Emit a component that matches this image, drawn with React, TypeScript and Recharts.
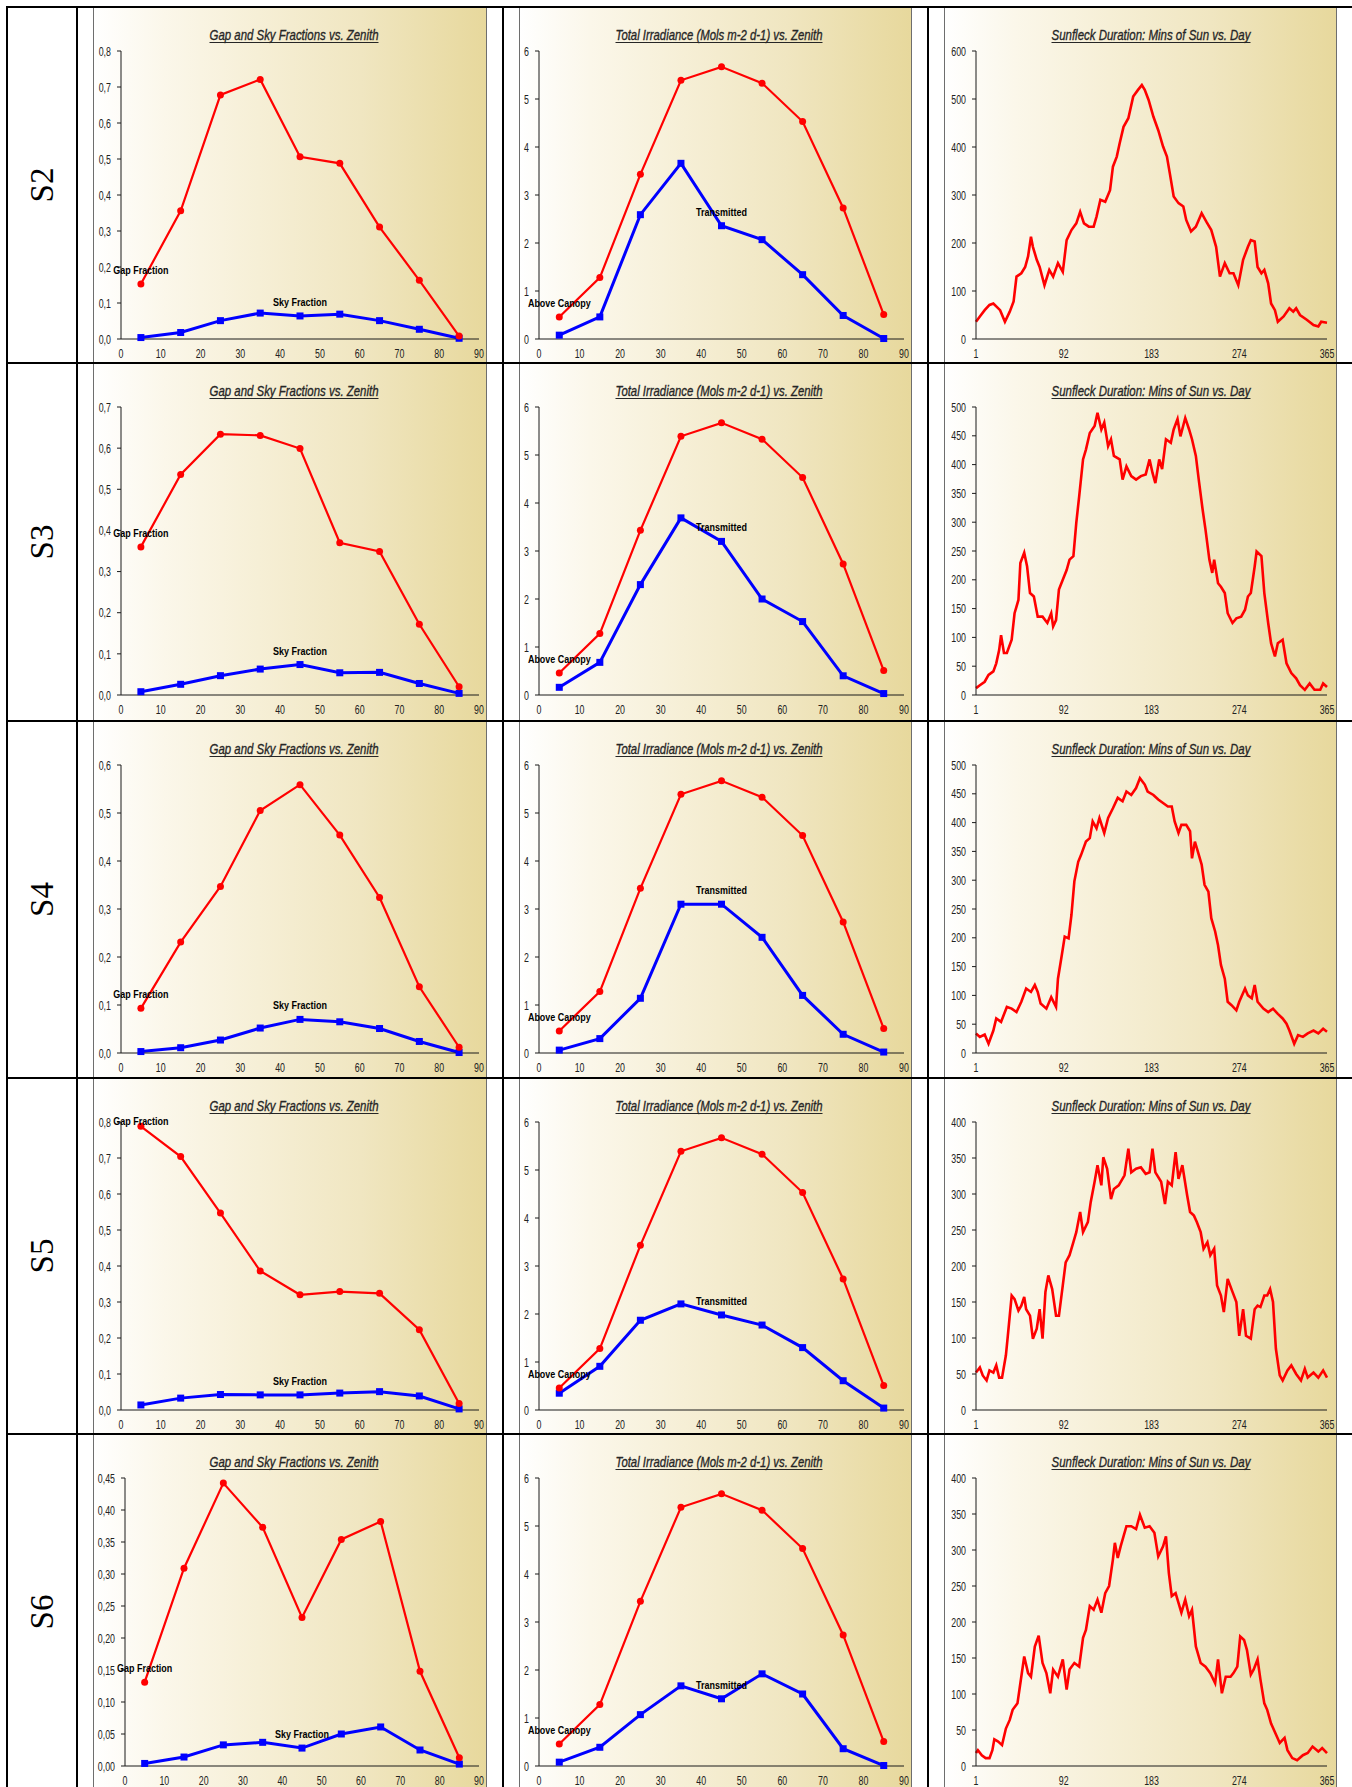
import React from 'react';
import { LineChart, Line, XAxis, YAxis, LabelList } from 'recharts';

// ---------------- data ----------------
const rowNames = ['S2', 'S3', 'S4', 'S5', 'S6'];

const zenith = [5, 15, 25, 35, 45, 55, 65, 75, 85];
const zenithTicks = [0, 10, 20, 30, 40, 50, 60, 70, 80, 90];
const dayTicks = [1, 92, 183, 274, 365];

// Gap and Sky fractions
const gapS2 = [0.153, 0.356, 0.678, 0.721, 0.506, 0.488, 0.311, 0.163, 0.008];
const skyS2 = [0.004, 0.018, 0.051, 0.072, 0.064, 0.069, 0.051, 0.027, 0.002];
const gapS3 = [0.36, 0.536, 0.634, 0.631, 0.599, 0.37, 0.349, 0.172, 0.02];
const skyS3 = [0.008, 0.026, 0.047, 0.063, 0.074, 0.054, 0.055, 0.028, 0.004];
const gapS4 = [0.093, 0.231, 0.347, 0.505, 0.559, 0.454, 0.324, 0.138, 0.012];
const skyS4 = [0.003, 0.011, 0.027, 0.052, 0.07, 0.065, 0.051, 0.024, 0.001];
const gapS5 = [0.788, 0.704, 0.547, 0.386, 0.32, 0.329, 0.324, 0.223, 0.018];
const skyS5 = [0.014, 0.033, 0.043, 0.042, 0.042, 0.047, 0.051, 0.039, 0.003];
const gapS6 = [0.131, 0.309, 0.442, 0.373, 0.232, 0.354, 0.382, 0.148, 0.013];
const skyS6 = [0.004, 0.014, 0.033, 0.037, 0.028, 0.05, 0.061, 0.025, 0.003];

const fracTicksS2 = [0, 0.1, 0.2, 0.3, 0.4, 0.5, 0.6, 0.7, 0.8];
const fracTicksS3 = [0, 0.1, 0.2, 0.3, 0.4, 0.5, 0.6, 0.7];
const fracTicksS4 = [0, 0.1, 0.2, 0.3, 0.4, 0.5, 0.6];
const fracTicksS5 = [0, 0.1, 0.2, 0.3, 0.4, 0.5, 0.6, 0.7, 0.8];
const fracTicksS6 = [0, 0.05, 0.1, 0.15, 0.2, 0.25, 0.3, 0.35, 0.4, 0.45];

// Total irradiance
const aboveCanopy = [0.46, 1.28, 3.43, 5.39, 5.67, 5.33, 4.53, 2.73, 0.51];
const transS2 = [0.08, 0.46, 2.59, 3.66, 2.36, 2.07, 1.34, 0.49, 0.01];
const transS3 = [0.16, 0.68, 2.3, 3.69, 3.2, 2.0, 1.53, 0.4, 0.03];
const transS4 = [0.06, 0.3, 1.14, 3.1, 3.1, 2.41, 1.2, 0.39, 0.02];
const transS5 = [0.35, 0.91, 1.87, 2.21, 1.98, 1.77, 1.3, 0.61, 0.04];
const transS6 = [0.08, 0.39, 1.07, 1.67, 1.4, 1.92, 1.5, 0.36, 0.01];
const irrTicks = [0, 1, 2, 3, 4, 5, 6];

// Sunfleck duration (minutes of sun by day)
const daysS2 = [1, 5, 10, 15, 19, 26, 31, 36, 40, 43, 48, 52, 55, 58, 60, 64, 67, 72, 77, 81, 86, 91, 95, 100, 105, 109, 113, 118, 123, 126, 130, 135, 140, 143, 147, 150, 154, 159, 164, 169, 173, 176, 180, 185, 190, 195, 199, 202, 206, 211, 216, 219, 224, 229, 235, 240, 245, 250, 254, 259, 264, 268, 273, 278, 283, 286, 290, 293, 297, 300, 304, 307, 311, 314, 320, 326, 330, 333, 337, 344, 351, 356, 359, 365];
const minsS2 = [36, 47, 60, 71, 74, 60, 36, 57, 78, 130, 137, 150, 172, 213, 192, 165, 150, 112, 144, 130, 158, 140, 206, 227, 241, 265, 241, 234, 234, 255, 290, 286, 310, 359, 380, 408, 442, 460, 505, 519, 529, 519, 498, 463, 435, 401, 380, 345, 297, 283, 276, 248, 224, 234, 262, 244, 227, 192, 130, 158, 137, 137, 112, 165, 192, 206, 203, 150, 137, 144, 116, 74, 60, 36, 47, 64, 57, 64, 50, 40, 29, 26, 36, 34];

const daysS3 = [1, 5, 10, 14, 19, 22, 25, 27, 30, 33, 38, 41, 45, 47, 51, 54, 57, 61, 65, 70, 75, 79, 81, 84, 87, 91, 95, 98, 102, 105, 108, 112, 115, 119, 124, 127, 131, 134, 138, 141, 144, 150, 153, 157, 162, 167, 172, 177, 181, 184, 187, 191, 194, 198, 203, 206, 210, 213, 218, 222, 225, 229, 232, 236, 239, 243, 246, 248, 252, 255, 259, 262, 267, 271, 276, 280, 283, 286, 290, 292, 297, 300, 304, 307, 311, 314, 319, 323, 328, 333, 337, 342, 347, 352, 358, 361, 365];
const minsS3 = [12, 17, 23, 35, 41, 55, 78, 104, 73, 73, 96, 142, 165, 229, 247, 223, 177, 171, 136, 136, 125, 142, 119, 130, 183, 200, 217, 235, 241, 299, 345, 409, 426, 455, 467, 490, 461, 473, 432, 444, 415, 409, 374, 397, 380, 374, 380, 383, 409, 386, 368, 409, 392, 444, 438, 461, 479, 449, 481, 461, 444, 415, 374, 322, 287, 235, 212, 235, 194, 188, 177, 142, 125, 133, 136, 148, 171, 177, 223, 249, 241, 177, 125, 90, 67, 90, 96, 55, 38, 29, 17, 9, 20, 9, 9, 20, 14];

const daysS4 = [1, 5, 10, 14, 19, 22, 27, 33, 38, 43, 48, 53, 58, 62, 65, 68, 74, 79, 84, 86, 90, 93, 97, 100, 103, 107, 110, 115, 119, 122, 126, 129, 134, 138, 143, 148, 153, 157, 162, 167, 171, 176, 179, 185, 190, 195, 200, 204, 207, 211, 214, 219, 223, 225, 228, 231, 235, 238, 242, 245, 249, 252, 255, 259, 262, 266, 271, 274, 280, 283, 287, 290, 293, 299, 304, 309, 314, 319, 323, 326, 331, 335, 340, 345, 351, 356, 361, 365];
const minsS4 = [34, 28, 32, 16, 39, 60, 54, 80, 77, 71, 89, 112, 106, 118, 106, 86, 77, 97, 80, 129, 170, 202, 199, 240, 298, 332, 344, 367, 373, 402, 390, 408, 382, 408, 425, 443, 437, 454, 448, 460, 477, 466, 454, 448, 440, 434, 428, 428, 402, 382, 396, 396, 385, 338, 367, 350, 327, 292, 280, 234, 211, 187, 153, 129, 89, 83, 74, 89, 112, 100, 95, 118, 89, 77, 71, 77, 68, 60, 51, 39, 16, 31, 28, 34, 39, 34, 42, 37];

const daysS5 = [1, 5, 8, 12, 15, 19, 22, 25, 28, 32, 34, 38, 41, 45, 48, 51, 53, 57, 60, 64, 67, 70, 73, 76, 80, 84, 87, 91, 94, 98, 102, 105, 109, 112, 117, 120, 124, 127, 131, 133, 137, 141, 144, 149, 155, 159, 162, 167, 172, 177, 181, 184, 187, 193, 197, 200, 204, 208, 211, 215, 220, 223, 227, 230, 234, 237, 241, 244, 248, 251, 255, 258, 262, 267, 271, 274, 278, 281, 286, 290, 293, 296, 300, 303, 306, 309, 312, 316, 319, 324, 328, 333, 338, 342, 345, 351, 356, 361, 365];
const minsS5 = [52, 59, 48, 41, 55, 52, 62, 45, 45, 76, 103, 159, 154, 138, 145, 157, 140, 131, 99, 113, 140, 99, 164, 187, 168, 131, 131, 173, 205, 215, 233, 247, 275, 247, 261, 289, 317, 340, 312, 351, 335, 293, 307, 312, 326, 363, 330, 335, 337, 328, 330, 363, 330, 317, 286, 317, 312, 358, 321, 340, 298, 275, 270, 261, 247, 224, 233, 215, 224, 173, 159, 136, 182, 164, 150, 103, 140, 103, 99, 140, 145, 143, 159, 159, 168, 150, 85, 48, 41, 55, 62, 50, 41, 57, 45, 52, 45, 55, 45];

const daysS6 = [1, 3, 7, 11, 15, 18, 20, 24, 28, 32, 36, 39, 44, 47, 51, 55, 58, 62, 66, 70, 74, 78, 81, 86, 91, 95, 98, 103, 108, 112, 115, 119, 123, 127, 131, 135, 139, 143, 145, 148, 151, 157, 162, 167, 171, 176, 181, 186, 190, 195, 198, 201, 204, 208, 214, 218, 222, 225, 229, 234, 239, 244, 249, 252, 256, 260, 265, 268, 272, 275, 279, 282, 286, 289, 293, 296, 300, 303, 307, 310, 316, 321, 324, 329, 334, 340, 345, 350, 356, 360, 365];
const minsS6 = [18, 22, 15, 11, 11, 22, 37, 34, 29, 52, 64, 78, 87, 115, 152, 129, 124, 166, 181, 143, 129, 101, 134, 124, 148, 106, 134, 143, 138, 178, 189, 222, 217, 231, 213, 240, 250, 287, 310, 289, 305, 333, 333, 329, 349, 331, 333, 324, 291, 305, 319, 268, 236, 240, 213, 231, 208, 217, 166, 143, 138, 129, 115, 148, 101, 124, 124, 129, 138, 180, 175, 161, 127, 134, 148, 120, 87, 78, 59, 50, 32, 39, 22, 11, 8, 15, 18, 27, 20, 25, 18];

const sunTicksS2 = [0, 100, 200, 300, 400, 500, 600];
const sunTicksS3 = [0, 50, 100, 150, 200, 250, 300, 350, 400, 450, 500];
const sunTicksS4 = [0, 50, 100, 150, 200, 250, 300, 350, 400, 450, 500];
const sunTicksS5 = [0, 50, 100, 150, 200, 250, 300, 350, 400];
const sunTicksS6 = [0, 50, 100, 150, 200, 250, 300, 350, 400];

const titles = [
  'Gap and Sky Fractions vs. Zenith',
  'Total Irradiance (Mols m-2 d-1) vs. Zenith',
  'Sunfleck Duration: Mins of Sun vs. Day',
];

const rows = [
  { gap: gapS2, sky: skyS2, fracTicks: fracTicksS2, dec: 1, trans: transS2, days: daysS2, mins: minsS2, sunTicks: sunTicksS2 },
  { gap: gapS3, sky: skyS3, fracTicks: fracTicksS3, dec: 1, trans: transS3, days: daysS3, mins: minsS3, sunTicks: sunTicksS3 },
  { gap: gapS4, sky: skyS4, fracTicks: fracTicksS4, dec: 1, trans: transS4, days: daysS4, mins: minsS4, sunTicks: sunTicksS4 },
  { gap: gapS5, sky: skyS5, fracTicks: fracTicksS5, dec: 1, trans: transS5, days: daysS5, mins: minsS5, sunTicks: sunTicksS5 },
  { gap: gapS6, sky: skyS6, fracTicks: fracTicksS6, dec: 2, trans: transS6, days: daysS6, mins: minsS6, sunTicks: sunTicksS6 },
];

// ---------------- layout / style ----------------
const ROW_TOPS = [7, 363, 721, 1078, 1434];
const PAGE_H = 1787;
const CHART_H = 356;
const PLOT_TOP = 44;
const PANEL_X = [93, 519, 944];
const PANEL_W = [394, 393, 393];
const TITLE_CX = [201, 200, 207];
const TITLE_W = [169, 207, 199];
const V_LINES = [7, 77, 503, 928];

const SANS = "'Liberation Sans', Arial, sans-serif";
const SERIF = "'Liberation Serif', 'Times New Roman', Times, 'DejaVu Serif', serif";
const SX = 0.68;
const AXIS = { stroke: '#1a1a1a', strokeWidth: 1 };
const RED = '#FF0000';
const BLUE = '#0000FF';
const GRAD = 'linear-gradient(90deg, #ffffff 0%, #fbf7ea 18%, #f6efd6 42%, #f0e6c1 68%, #e7d89c 100%)';

const fmtComma = (dec: number) => (v: number) => v.toFixed(dec).replace('.', ',');

const makeYTick = (fmt: (v: number) => string) => (p: any) => (
  <text
    key={`yt${p.index}`}
    transform={`translate(${p.x},${p.y}) scale(${SX},1)`}
    textAnchor="end"
    dominantBaseline="central"
    fontFamily={SANS}
    fontSize={13}
    fill="#222"
  >
    {fmt(p.payload.value)}
  </text>
);

const xTick = (p: any) => (
  <text
    key={`xt${p.index}`}
    transform={`translate(${p.x},${p.y + 14}) scale(${SX},1)`}
    textAnchor="middle"
    dominantBaseline="central"
    fontFamily={SANS}
    fontSize={13}
    fill="#222"
  >
    {String(p.payload.value)}
  </text>
);

const redDot = (p: any) => <circle key={`r${p.index}`} cx={p.cx} cy={p.cy} r={3.5} fill={RED} />;
const blueDot = (p: any) => (
  <rect key={`b${p.index}`} x={p.cx - 3.5} y={p.cy - 3.5} width={7} height={7} fill={BLUE} />
);

const seriesLabel = (text: string, idx: number) => (p: any) =>
  p.index === idx ? (
    <text
      key={`lb${text}`}
      transform={`translate(${p.x},${Math.max(p.y - 10, PLOT_TOP + 3)}) scale(0.78,1)`}
      textAnchor="middle"
      fontFamily={SANS}
      fontWeight="bold"
      fontSize={11.5}
      fill="#000"
    >
      {text}
    </text>
  ) : null;

function FractionChart({ r }: { r: (typeof rows)[number] }) {
  const data = zenith.map((z, i) => ({ z, gap: r.gap[i], sky: r.sky[i] }));
  const top = r.fracTicks[r.fracTicks.length - 1];
  return (
    <LineChart width={PANEL_W[0]} height={CHART_H} data={data} margin={{ top: PLOT_TOP, right: 8, bottom: 0, left: 0 }}>
      <XAxis type="number" dataKey="z" domain={[0, 90]} ticks={zenithTicks} interval={0} height={24}
        tickSize={0} tickMargin={0} tickLine={false} axisLine={AXIS} tick={xTick} />
      <YAxis type="number" domain={[0, top]} ticks={r.fracTicks} interval={0} width={r.dec === 2 ? 32 : 28}
        tickSize={4} tickMargin={6} axisLine={AXIS} tickLine={AXIS} tick={makeYTick(fmtComma(r.dec))} />
      <Line type="linear" dataKey="sky" stroke={BLUE} strokeWidth={3} dot={blueDot} activeDot={false} isAnimationActive={false}>
        <LabelList dataKey="sky" content={seriesLabel('Sky Fraction', 4)} />
      </Line>
      <Line type="linear" dataKey="gap" stroke={RED} strokeWidth={2.2} dot={redDot} activeDot={false} isAnimationActive={false}>
        <LabelList dataKey="gap" content={seriesLabel('Gap Fraction', 0)} />
      </Line>
    </LineChart>
  );
}

function IrradianceChart({ r }: { r: (typeof rows)[number] }) {
  const data = zenith.map((z, i) => ({ z, above: aboveCanopy[i], trans: r.trans[i] }));
  return (
    <LineChart width={PANEL_W[1]} height={CHART_H} data={data} margin={{ top: PLOT_TOP, right: 8, bottom: 0, left: 0 }}>
      <XAxis type="number" dataKey="z" domain={[0, 90]} ticks={zenithTicks} interval={0} height={24}
        tickSize={0} tickMargin={0} tickLine={false} axisLine={AXIS} tick={xTick} />
      <YAxis type="number" domain={[0, 6]} ticks={irrTicks} interval={0} width={20}
        tickSize={4} tickMargin={6} axisLine={AXIS} tickLine={AXIS} tick={makeYTick((v) => String(v))} />
      <Line type="linear" dataKey="trans" stroke={BLUE} strokeWidth={3} dot={blueDot} activeDot={false} isAnimationActive={false}>
        <LabelList dataKey="trans" content={seriesLabel('Transmitted', 4)} />
      </Line>
      <Line type="linear" dataKey="above" stroke={RED} strokeWidth={2.2} dot={redDot} activeDot={false} isAnimationActive={false}>
        <LabelList dataKey="above" content={seriesLabel('Above Canopy', 0)} />
      </Line>
    </LineChart>
  );
}

function SunfleckChart({ r }: { r: (typeof rows)[number] }) {
  const data = r.days.map((d, i) => ({ day: d, mins: r.mins[i] }));
  const top = r.sunTicks[r.sunTicks.length - 1];
  return (
    <LineChart width={PANEL_W[2]} height={CHART_H} data={data} margin={{ top: PLOT_TOP, right: 10, bottom: 0, left: 0 }}>
      <XAxis type="number" dataKey="day" domain={[1, 365]} ticks={dayTicks} interval={0} height={24}
        tickSize={0} tickMargin={0} tickLine={false} axisLine={AXIS} tick={xTick} />
      <YAxis type="number" domain={[0, top]} ticks={r.sunTicks} interval={0} width={32}
        tickSize={4} tickMargin={6} axisLine={AXIS} tickLine={AXIS} tick={makeYTick((v) => String(v))} />
      <Line type="linear" dataKey="mins" stroke={RED} strokeWidth={2.6} strokeLinejoin="miter" dot={false} activeDot={false} isAnimationActive={false} />
    </LineChart>
  );
}

function Panel({ col, top, height, children }: { col: number; top: number; height: number; children: React.ReactNode }) {
  const w = PANEL_W[col];
  const cx = TITLE_CX[col];
  const tw = TITLE_W[col];
  return (
    <div
      style={{
        position: 'absolute', left: PANEL_X[col], top, width: w, height, overflow: 'hidden',
        background: GRAD, boxShadow: 'inset 1px 0 0 #6e6e6e, inset -1px 0 0 #6e6e6e',
      }}
    >
      <svg width={w} height={44} style={{ position: 'absolute', left: 0, top: 0 }}>
        <text x={cx} y={33} textAnchor="middle" textLength={tw} lengthAdjust="spacingAndGlyphs"
          fontFamily={SANS} fontStyle="italic" fontSize={15} fill="#262626" stroke="#262626" strokeWidth={0.35}>
          {titles[col]}
        </text>
        <line x1={cx - tw / 2} x2={cx + tw / 2} y1={35.5} y2={35.5} stroke="#262626" strokeWidth={1.1} />
      </svg>
      <div style={{ position: 'absolute', left: 0, top: 0 }}>{children}</div>
    </div>
  );
}

export default function App() {
  return (
    <div style={{ position: 'absolute', left: 0, top: 0, width: 1352, height: PAGE_H, overflow: 'hidden', background: '#fff' }}>
      {rows.map((r, i) => {
        const top = ROW_TOPS[i];
        const bottom = i + 1 < ROW_TOPS.length ? ROW_TOPS[i + 1] : PAGE_H + 3;
        const h = bottom - top;
        return (
          <React.Fragment key={rowNames[i]}>
            <svg width={70} height={h} style={{ position: 'absolute', left: 7, top }}>
              <text
                x={0}
                y={0}
                transform={`translate(35,${h / 2}) rotate(-90)`}
                textAnchor="middle"
                dominantBaseline="central"
                fontFamily={SERIF}
                fontSize={33}
                fill="#000"
              >
                {rowNames[i]}
              </text>
            </svg>
            <Panel col={0} top={top} height={h}><FractionChart r={r} /></Panel>
            <Panel col={1} top={top} height={h}><IrradianceChart r={r} /></Panel>
            <Panel col={2} top={top} height={h}><SunfleckChart r={r} /></Panel>
          </React.Fragment>
        );
      })}
      {ROW_TOPS.map((y) => (
        <div key={`h${y}`} style={{ position: 'absolute', left: 6, top: y - 1, width: 1352 - 6, height: 2, background: '#000' }} />
      ))}
      {V_LINES.map((x) => (
        <div key={`v${x}`} style={{ position: 'absolute', left: x - 1, top: 6, width: 2, height: PAGE_H - 6, background: '#000' }} />
      ))}
    </div>
  );
}
